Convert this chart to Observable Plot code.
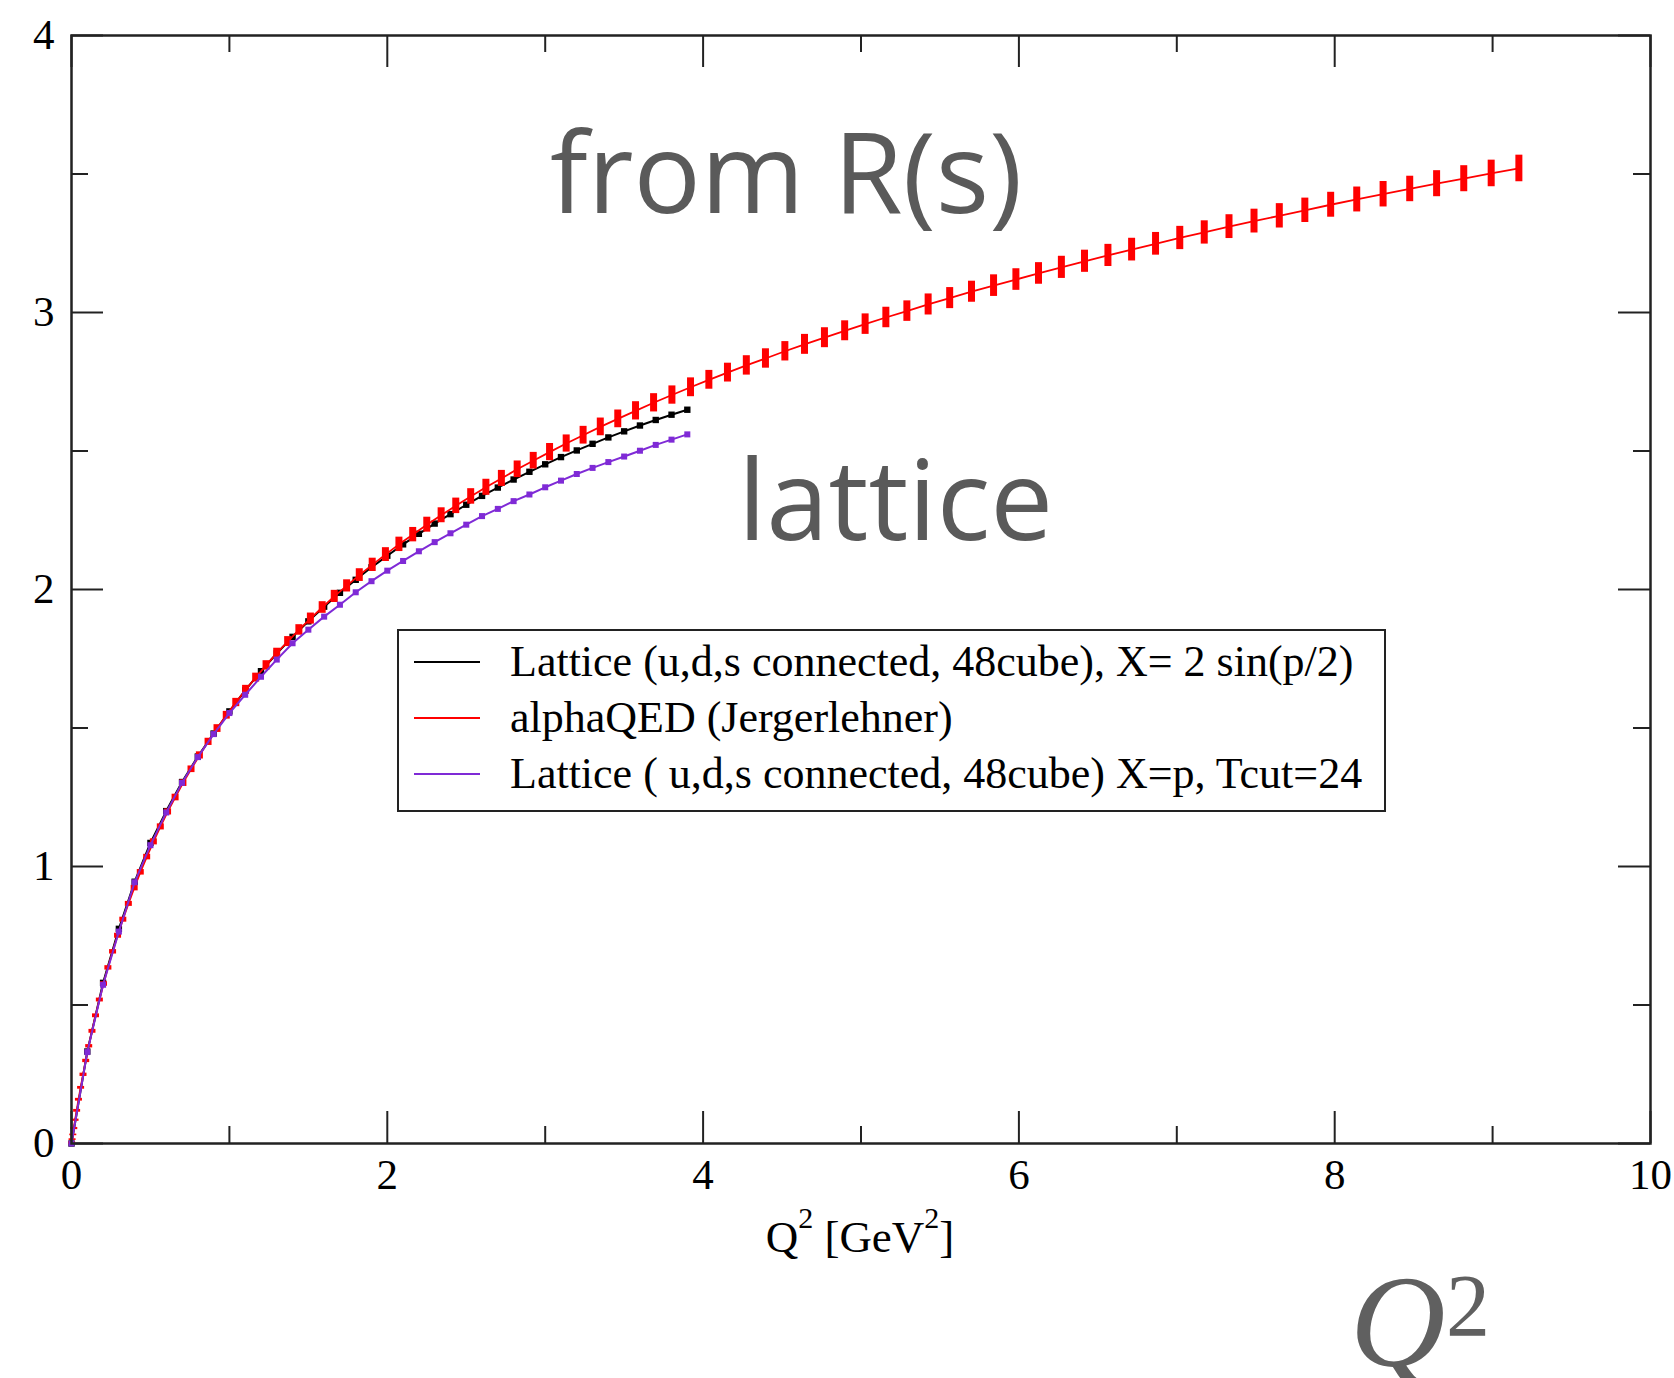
<!DOCTYPE html>
<html><head><meta charset="utf-8">
<script src="https://cdn.jsdelivr.net/npm/d3@7"></script>
<script src="https://cdn.jsdelivr.net/npm/@observablehq/plot@0.6"></script>
<style>
html,body{margin:0;padding:0;background:#fff;}
#chart{width:1674px;height:1378px;overflow:hidden;}
</style></head><body><div id="chart"></div>
<script>
// alphaQED (Jergerlehner) points: Q^2 [GeV^2], value, error
const redQ2 = [0,0.0009,0.0036,0.0081,0.0144,0.0225,0.0324,0.0441,0.0576,0.0729,
0.09,0.1089,0.1296,0.1521,0.1764,0.2025,0.2304,0.2601,0.2916,0.3249,
0.36,0.3969,0.4356,0.4761,0.5184,0.5625,0.6084,0.6561,0.7056,0.7569,
0.81,0.8649,0.9216,0.9801,1.0404,1.1025,1.1664,1.2321,1.2996,1.3689,
1.44,1.5129,1.5876,1.6641,1.7424,1.8225,1.9044,1.9881,2.0736,2.1609,
2.25,2.3409,2.4336,2.5281,2.6244,2.7225,2.8224,2.9241,3.0276,3.1329,
3.24,3.3489,3.4596,3.5721,3.6864,3.8025,3.9204,
4.0365,4.1543,4.2737,4.3949,4.5178,4.6423,4.7685,4.8965,5.0261,5.1574,
5.2905,5.4252,5.5616,5.6997,5.8395,5.9810,6.1241,6.2690,6.4156,6.5638,
6.7138,6.8654,7.0188,7.1738,7.3306,7.4890,7.6491,7.8109,7.9744,8.1396,
8.3065,8.4751,8.6454,8.8173,8.9910,9.1664];
const redVal = [0,0.004,0.014,0.031,0.054,0.084,0.118,0.158,0.201,0.248,
0.298,0.351,0.405,0.461,0.518,0.576,0.634,0.692,0.750,0.808,
0.865,0.922,0.979,1.034,1.089,1.143,1.197,1.249,1.301,1.351,
1.401,1.450,1.498,1.546,1.592,1.638,1.682,1.726,1.770,1.812,
1.854,1.895,1.935,1.975,2.013,2.052,2.089,2.126,2.163,2.198,
2.234,2.268,2.302,2.336,2.369,2.401,2.434,2.465,2.496,2.527,
2.557,2.587,2.616,2.645,2.674,2.702,2.730,
2.757,2.783,2.809,2.834,2.860,2.885,2.909,2.934,2.958,2.982,
3.005,3.029,3.052,3.075,3.097,3.119,3.141,3.163,3.185,3.206,
3.227,3.248,3.269,3.289,3.310,3.330,3.349,3.369,3.389,3.408,
3.427,3.446,3.465,3.483,3.502,3.520];
const redErr = [0.002,0.002,0.003,0.003,0.004,0.004,0.005,0.005,0.005,0.006,0.006,
0.006,0.007,0.007,0.007,0.008,0.008,0.008,0.009,0.009,0.009,
0.010,0.010,0.010,0.011,0.011,0.011,0.012,0.012,0.012,0.013,
0.013,0.014,0.014,0.015,0.016,0.016,0.017,0.018,0.018,0.019,
0.020,0.021,0.022,0.022,0.023,0.024,0.025,0.026,0.026,0.027,
0.027,0.028,0.028,0.029,0.029,0.030,0.030,0.031,0.031,0.032,
0.032,0.032,0.033,0.033,0.033,0.034,
0.034,0.034,0.035,0.035,0.035,0.036,0.036,0.036,0.037,0.037,0.037,0.038,
0.038,0.038,0.039,0.039,0.039,0.040,0.040,0.040,0.041,0.041,0.042,0.042,
0.043,0.043,0.044,0.044,0.045,0.045,0.046,0.046,0.047,0.047,0.048,0.048];

// Lattice points (both lattice series share the same Q^2 values)
const latQ2 = [0,0.1,0.2,0.3,0.4,0.5,0.6,0.7,0.8,0.9,1.0,1.1,1.2,1.3,1.4,1.5,1.6,1.7,1.8,1.9,
2.0,2.1,2.2,2.3,2.4,2.5,2.6,2.7,2.8,2.9,3.0,3.1,3.2,3.3,3.4,3.5,3.6,3.7,3.8,3.9];
const blackVal = [0,0.332,0.58,0.775,0.945,1.085,1.20,1.305,1.397,1.48,1.56,1.636,1.705,1.769,1.829,1.885,1.938,1.988,2.035,2.080,
2.122,2.163,2.201,2.238,2.272,2.306,2.338,2.368,2.397,2.425,2.452,2.478,2.502,2.526,2.549,2.571,2.592,2.612,2.631,2.649];
const purpleVal = [0,0.33,0.573,0.765,0.943,1.077,1.195,1.302,1.395,1.478,1.554,1.620,1.685,1.747,1.806,1.855,1.902,1.945,1.990,2.030,
2.068,2.103,2.138,2.171,2.203,2.234,2.265,2.291,2.319,2.343,2.369,2.393,2.417,2.439,2.460,2.480,2.501,2.522,2.541,2.560];

const xMajor = [0,2,4,6,8,10];
const xMinor = [1,3,5,7,9];
const yMajor = [0,1,2,3,4];
const yMinor = [0.5,1.5,2.5,3.5];
const seriesNames = ["Lattice (u,d,s connected, 48cube), X= 2 sin(p/2)", "alphaQED (Jergerlehner)", "Lattice ( u,d,s connected, 48cube) X=p, Tcut=24"];
const seriesColors = ["#000000", "#ff0000", "#7f2ad6"];

const red = redQ2.map((x, i) => ({x, y: redVal[i], e: redErr[i]}));
const black = latQ2.map((x, i) => ({x, y: blackVal[i]}));
const purple = latQ2.map((x, i) => ({x, y: purpleVal[i]}));

const W = 1674, H = 1378, mt = 35, mb = 235, ml = 71, mr = 24;
const ih = H - mt - mb, iw = W - ml - mr;
const axisColor = "#222";
const major = 32, minor = 17;

const plot = Plot.plot({
  width: W, height: H,
  marginTop: mt, marginBottom: mb, marginLeft: ml, marginRight: mr,
  style: {fontFamily: "'Liberation Serif', 'Times New Roman', serif", background: "#fff", color: "#000", overflow: "visible"},
  x: {domain: [0, 10]},
  y: {domain: [0, 4]},
  marks: [
    Plot.axisX(xMajor, {tickSize: 0, tickPadding: 15, fontSize: 43, label: null, fill: "#000", tickFormat: "d"}),
    Plot.axisY(yMajor, {tickSize: 0, tickPadding: 17, fontSize: 43, label: null, fill: "#000", tickFormat: "d"}),
    // inward ticks on all four sides
    Plot.tickX(xMajor, {x: d => d, insetTop: ih - major, stroke: axisColor, strokeWidth: 2}),
    Plot.tickX(xMajor, {x: d => d, insetBottom: ih - major, stroke: axisColor, strokeWidth: 2}),
    Plot.tickX(xMinor, {x: d => d, insetTop: ih - minor, stroke: axisColor, strokeWidth: 2}),
    Plot.tickX(xMinor, {x: d => d, insetBottom: ih - minor, stroke: axisColor, strokeWidth: 2}),
    Plot.tickY(yMajor, {y: d => d, insetRight: iw - major, stroke: axisColor, strokeWidth: 2}),
    Plot.tickY(yMajor, {y: d => d, insetLeft: iw - major, stroke: axisColor, strokeWidth: 2}),
    Plot.tickY(yMinor, {y: d => d, insetRight: iw - minor, stroke: axisColor, strokeWidth: 2}),
    Plot.tickY(yMinor, {y: d => d, insetLeft: iw - minor, stroke: axisColor, strokeWidth: 2}),
    // series
    Plot.line(black, {x: "x", y: "y", stroke: seriesColors[0], strokeWidth: 2}),
    Plot.dot(black, {x: "x", y: "y", symbol: "square", r: 3.6, fill: seriesColors[0], stroke: "none"}),
    Plot.line(red, {x: "x", y: "y", stroke: seriesColors[1], strokeWidth: 1.8}),
    Plot.ruleX(red, {x: "x", y1: d => d.y - d.e, y2: d => d.y + d.e, stroke: seriesColors[1], strokeWidth: 7}),
    Plot.line(purple, {x: "x", y: "y", stroke: seriesColors[2], strokeWidth: 2}),
    Plot.dot(purple, {x: "x", y: "y", symbol: "square", r: 3.4, fill: seriesColors[2], stroke: "none"}),
    Plot.frame({stroke: axisColor, strokeWidth: 2.5})
  ]
});

const svg = d3.select(plot);
// legend
const lg = svg.append("g");
lg.append("rect").attr("x", 398).attr("y", 630).attr("width", 987).attr("height", 181)
  .attr("fill", "#fff").attr("stroke", "#222").attr("stroke-width", 2);
seriesNames.forEach((name, i) => {
  const cy = 662 + 56 * i;
  lg.append("line").attr("x1", 414).attr("x2", 480).attr("y1", cy).attr("y2", cy)
    .attr("stroke", seriesColors[i]).attr("stroke-width", 2);
  lg.append("text").attr("x", 510).attr("y", cy + 14).attr("font-size", 44)
    .attr("text-anchor", "start").attr("fill", "#000").text(name);
});

// axis label
const xl = svg.append("text").attr("x", 860).attr("y", 1252).attr("text-anchor", "middle")
  .attr("font-size", 45).attr("fill", "#000");
xl.append("tspan").text("Q");
xl.append("tspan").attr("font-size", 30).attr("dy", -24).text("2");
xl.append("tspan").attr("dy", 24).text(" [GeV");
xl.append("tspan").attr("font-size", 30).attr("dy", -24).text("2");
xl.append("tspan").attr("dy", 24).text("]");

// annotations
svg.append("text").attr("x", 550).attr("y", 213).attr("font-family", "'Open Sans', sans-serif")
  .attr("font-size", 112).attr("fill", "#5a5a5a").attr("text-anchor", "start").text("from R(s)");
svg.append("text").attr("x", 738).attr("y", 540).attr("font-family", "'Open Sans', sans-serif")
  .attr("font-size", 112).attr("fill", "#5a5a5a").attr("text-anchor", "start").text("lattice");
svg.append("text").attr("x", 1350).attr("y", 1366).attr("font-family", "'Liberation Serif', serif")
  .attr("font-size", 132).attr("font-style", "italic").attr("fill", "#606060").attr("text-anchor", "start").text("Q");
svg.append("text").attr("x", 1446).attr("y", 1335).attr("font-family", "'Liberation Serif', serif")
  .attr("font-size", 88).attr("fill", "#606060").attr("text-anchor", "start").text("2");

document.getElementById("chart").appendChild(plot);
</script>
</body></html>
